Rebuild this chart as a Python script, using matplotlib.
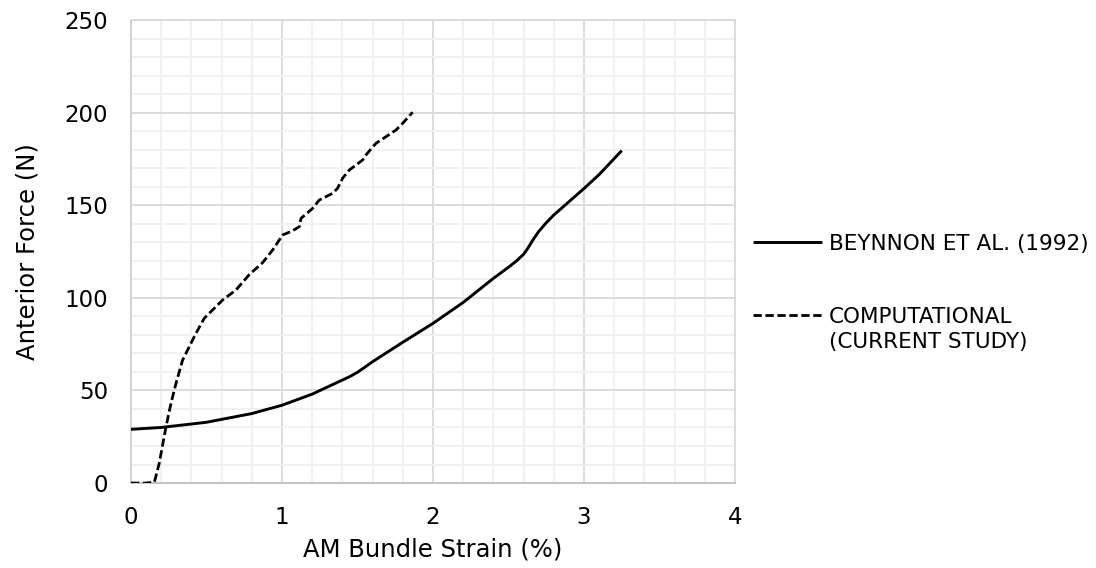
import matplotlib
matplotlib.use("Agg")
import matplotlib.pyplot as plt
from matplotlib.ticker import MultipleLocator

# Data
beynnon_x = [0.0, 0.2, 0.5, 0.8, 1.0, 1.2, 1.4, 1.45, 1.5, 1.55, 1.6, 1.8, 2.0, 2.2, 2.4, 2.5, 2.55, 2.6, 2.63, 2.66,
             2.7, 2.75, 2.8, 3.0, 3.1, 3.25]
beynnon_y = [29.0, 30.0, 32.8, 37.5, 42.0, 48.0, 55.6, 57.5, 59.8, 62.6, 65.5, 76.0, 86.2, 97.5, 110.5, 116.5, 119.7,
             123.5, 127.0, 131.0, 135.8, 140.5, 144.7, 159.0, 166.5, 179.5]

comp_x = [0.0, 0.1, 0.155, 0.187, 0.232, 0.265, 0.298, 0.342, 0.386, 0.43, 0.485, 0.54, 0.607, 0.695, 0.783, 0.872,
          0.938, 0.982, 1.004, 1.07, 1.115, 1.126, 1.203, 1.247, 1.335, 1.368, 1.401, 1.446, 1.49, 1.534, 1.556,
          1.622, 1.689, 1.755, 1.799, 1.865]
comp_y = [0.0, 0.0, 0.5, 10.6, 30.4, 43.0, 53.8, 66.4, 73.6, 80.8, 88.9, 93.4, 98.8, 104.2, 112.5, 119.0,
          125.8, 131.2, 133.9, 136.2, 138.4, 142.9, 148.3, 152.8, 156.4, 159.1, 164.5, 169.0, 171.7, 174.4, 177.1,
          183.4, 187.0, 190.6, 194.2, 200.2]

labels = ["BEYNNON ET AL. (1992)", "COMPUTATIONAL"]
label2_extra = "(CURRENT STUDY)"

plt.rcParams['font.family'] = ['DejaVu Sans']

fig = plt.figure(figsize=(10.96, 5.68), dpi=100)
ax = fig.add_axes([0.1195, 0.1496, 0.5511, 0.8152])

ax.plot(beynnon_x, beynnon_y, color='black', lw=2.1, solid_capstyle='butt', solid_joinstyle='round',
        label=labels[0], zorder=3)
ax.plot(comp_x, comp_y, color='black', lw=2.0, dashes=(3.0, 1.3), label=labels[1], zorder=3)

ax.set_xlim(0, 4)
ax.set_ylim(0, 250)
ax.xaxis.set_major_locator(MultipleLocator(1))
ax.xaxis.set_minor_locator(MultipleLocator(0.2))
ax.yaxis.set_major_locator(MultipleLocator(50))
ax.yaxis.set_minor_locator(MultipleLocator(10))
ax.grid(which='minor', color='#f0f0f0', lw=1.3, zorder=0)
ax.grid(which='major', color='#d9d9d9', lw=1.3, zorder=1)
ax.set_axisbelow(True)
ax.tick_params(which='both', length=0, labelsize=16.5, pad=16.5, colors='black')

for s in ['top', 'right']:
    ax.spines[s].set_color('#d9d9d9')
    ax.spines[s].set_linewidth(1.3)
ax.spines['left'].set_color('#d0d0d0')
ax.spines['left'].set_linewidth(1.3)
ax.spines['bottom'].set_color('#bfbfbf')
ax.spines['bottom'].set_linewidth(1.3)

ax.set_xlabel("AM Bundle Strain (%)", fontsize=17.5, labelpad=6)
ax.set_ylabel("Anterior Force (N)", fontsize=17.5, labelpad=18)

leg = fig.legend(loc='upper left', bbox_to_anchor=(753 / 1096, (568 - 234) / 568), frameon=False,
                 fontsize=15.5, handlelength=3.2, handletextpad=0.32, labelspacing=2.45,
                 borderaxespad=0, borderpad=0)
fig.text(829 / 1096, (568 - 342) / 568, label2_extra, fontsize=15.5, ha='left', va='center')

fig.savefig("out.png", dpi=100)
